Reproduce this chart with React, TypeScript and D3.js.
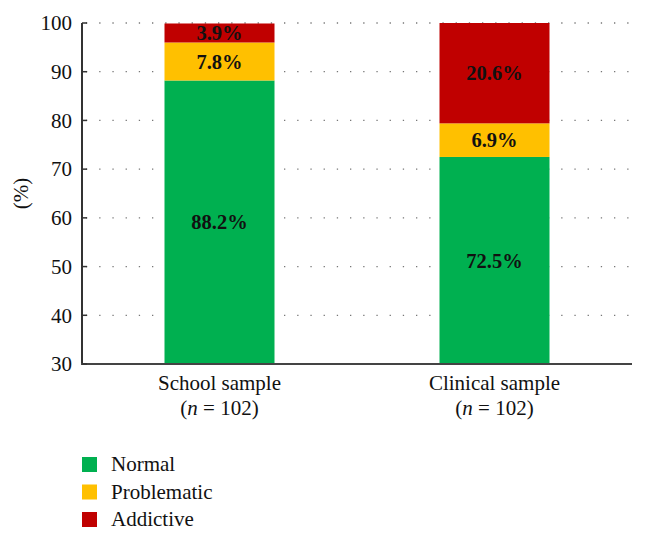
import React from "react";
import * as d3 from "d3";

const categories = ["School sample", "Clinical sample"];
const sampleSizes = ["102", "102"];
const seriesNames = ["Normal", "Problematic", "Addictive"];
const normalValues = [88.2, 72.5];
const problematicValues = [7.8, 6.9];
const addictiveValues = [3.9, 20.6];
const yTicks = [30, 40, 50, 60, 70, 80, 90, 100];
const colors = ["#00B050", "#FFC000", "#C00000"];

const W = 646;
const H = 541;
const margin = { left: 82, right: 14, top: 23, bottom: 177 };
const FONT = "'Liberation Serif', 'Times New Roman', serif";
const FS = 21;

export default function App() {
  const x = d3
    .scaleBand<string>()
    .domain(categories)
    .range([margin.left, W - margin.right])
    .paddingInner(0.6)
    .paddingOuter(0.3);
  const y = d3.scaleLinear().domain([30, 100]).range([H - margin.bottom, margin.top]);

  const rows = categories.map((c, i) => ({
    category: c,
    Normal: normalValues[i],
    Problematic: problematicValues[i],
    Addictive: addictiveValues[i],
  }));
  const stacked = d3.stack<any>().keys(seriesNames)(rows);

  const x0 = margin.left;
  const x1 = W - margin.right;
  const yBase = y(30);

  return (
    <svg width={W} height={H} style={{ display: "block", position: "absolute", left: 0, top: 0 }}>
      <rect width={W} height={H} fill="#fff" />
      {/* grid */}
      {yTicks.filter((t) => t > 30).map((t) => (
        <line
          key={t}
          x1={x0 + 4}
          x2={x1}
          y1={y(t)}
          y2={y(t)}
          stroke="#777"
          strokeWidth={1.3}
          strokeDasharray="1.3,11.9"
        />
      ))}
      {/* bars */}
      {stacked.map((layer, si) =>
        layer.map((d, ci) => {
          const lo = d[0] === 0 ? 30 : d[0];
          return (
            <rect
              key={si + "-" + ci}
              x={x(categories[ci])}
              width={x.bandwidth()}
              y={y(d[1])}
              height={y(lo) - y(d[1])}
              fill={colors[si]}
            />
          );
        })
      )}
      {/* bar labels */}
      {stacked.map((layer, si) =>
        layer.map((d, ci) => {
          const lo = d[0] === 0 ? 30 : d[0];
          const mid = (lo + d[1]) / 2;
          const v = [normalValues, problematicValues, addictiveValues][si][ci];
          return (
            <text
              key={"l" + si + "-" + ci}
              x={(x(categories[ci]) as number) + x.bandwidth() / 2}
              y={y(mid)}
              dy="0.35em"
              textAnchor="middle"
              fontFamily={FONT}
              fontWeight="bold"
              fontSize={20.5}
              fill="#111"
            >
              {v.toFixed(1)}%
            </text>
          );
        })
      )}
      {/* axes */}
      <line x1={x0} x2={x0} y1={margin.top} y2={yBase} stroke="#333" strokeWidth={2} />
      <line x1={x0 - 1} x2={x1} y1={yBase} y2={yBase} stroke="#444" strokeWidth={2} />
      {yTicks.map((t) => (
        <g key={"t" + t}>
          <line x1={x0} x2={x0 + 5} y1={y(t)} y2={y(t)} stroke="#333" strokeWidth={1.5} />
          <text
            x={x0 - 10}
            y={y(t)}
            dy="0.35em"
            textAnchor="end"
            fontFamily={FONT}
            fontSize={FS}
            fill="#111"
          >
            {t}
          </text>
        </g>
      ))}
      <text
        transform={`translate(28, ${(margin.top + yBase) / 2}) rotate(-90)`}
        textAnchor="middle"
        fontFamily={FONT}
        fontSize={FS}
        fill="#111"
      >
        (%)
      </text>
      {/* category labels */}
      {categories.map((c, i) => {
        const cx = (x(c) as number) + x.bandwidth() / 2;
        return (
          <g key={"c" + c}>
            <text x={cx} y={390} textAnchor="middle" fontFamily={FONT} fontSize={FS} fill="#111">
              {c}
            </text>
            <text x={cx} y={415} textAnchor="middle" fontFamily={FONT} fontSize={FS} fill="#111">
              (<tspan fontStyle="italic">n</tspan> = {sampleSizes[i]})
            </text>
          </g>
        );
      })}
      {/* legend */}
      {seriesNames.map((s, i) => (
        <g key={"lg" + s} transform={`translate(82, ${457 + i * 27.5})`}>
          <rect width={15} height={15} fill={colors[i]} />
          <text x={29} y={14} fontFamily={FONT} fontSize={FS} fill="#111">
            {s}
          </text>
        </g>
      ))}
    </svg>
  );
}
